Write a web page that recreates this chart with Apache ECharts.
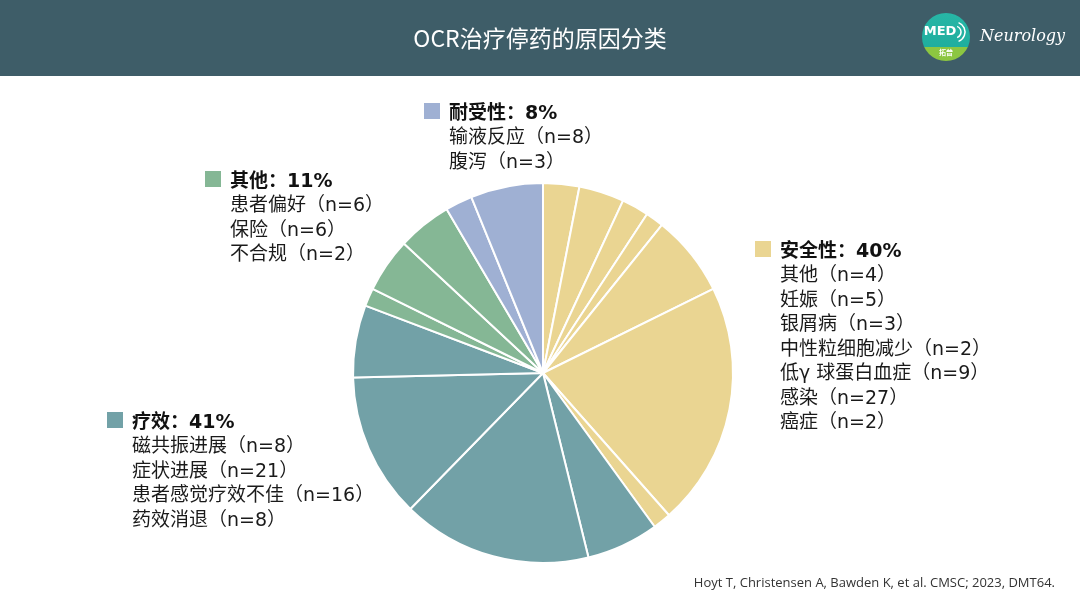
<!DOCTYPE html>
<html>
<head>
<meta charset="utf-8">
<script src="https://cdn.jsdelivr.net/npm/echarts@6/dist/echarts.min.js"></script>
<style>
  html, body { margin: 0; padding: 0; background: #fff; }
  #main { width: 1080px; height: 608px; }
</style>
</head>
<body>
<div id="main"></div>
<script>
// 数据：各类别及其细分原因
var titleText = 'OCR治疗停药的原因分类';
var sourceText = 'Hoyt T, Christensen A, Bawden K, et al. CMSC; 2023, DMT64.';

var groupNames = ['安全性', '疗效', '其他', '耐受性'];
var groupPct = ['40%', '41%', '11%', '8%'];

var safetyItems = ['其他', '妊娠', '银屑病', '中性粒细胞减少', '低γ 球蛋白血症', '感染', '癌症'];
var safetyN = [4, 5, 3, 2, 9, 27, 2];
var efficacyItems = ['磁共振进展', '症状进展', '患者感觉疗效不佳', '药效消退'];
var efficacyN = [8, 21, 16, 8];
var otherItems = ['患者偏好', '保险', '不合规'];
var otherN = [6, 6, 2];
var toleranceItems = ['输液反应', '腹泻'];
var toleranceN = [8, 3];

var colors = ['#ead592', '#72a1a7', '#85b795', '#9fb0d3'];
var font = '"Noto Sans CJK SC", "Noto Sans", sans-serif';
var labelFont = '"DejaVu Sans", "Noto Sans CJK SC", sans-serif'; // 西文字宽一些

// 饼图里的顺序（顺时针，从12点开始）
var pieData = [];
function addSlices(items, ns, color, reverse) {
    var idx = items.map(function (x, i) { return i; });
    if (reverse) idx.reverse();
    idx.forEach(function (i) {
        pieData.push({ name: items[i], value: ns[i], itemStyle: { color: color } });
    });
}
addSlices(safetyItems, safetyN, colors[0], false);
addSlices(efficacyItems, efficacyN, colors[1], false);
addSlices(otherItems, otherN, colors[2], true);
addSlices(toleranceItems, toleranceN, colors[3], true);

// 每个说明块：方块 + 粗体标题 + 各条
var lineH = 24.5;
function labelBlock(x, y, color, head, pct, items, ns) {
    var els = [];
    els.push({ type: 'rect', shape: { x: x, y: y - 8, width: 16, height: 16 }, style: { fill: color } });
    els.push({ type: 'text', x: x + 25, y: y + 3, style: {
        text: head + '：' + pct, font: 'bold 19px ' + labelFont, fill: '#111', textVerticalAlign: 'middle' } });
    items.forEach(function (it, i) {
        els.push({ type: 'text', x: x + 25, y: y + 3 + lineH * (i + 1), style: {
            text: it + '（n=' + ns[i] + '）', font: '19px ' + labelFont, fill: '#1a1a1a', textVerticalAlign: 'middle' } });
    });
    return els;
}

var graphics = [];
// 顶部标题栏
graphics.push({ type: 'rect', shape: { x: 0, y: 0, width: 1080, height: 76 }, style: { fill: '#3e5d68' } });
graphics.push({ type: 'text', x: 540, y: 38, style: {
    text: titleText, font: '23px ' + font, fill: '#fff', textAlign: 'center', textVerticalAlign: 'middle' } });
// logo
graphics.push({ type: 'circle', shape: { cx: 946, cy: 37, r: 24 }, style: {
    fill: new echarts.graphic.LinearGradient(0, 0, 0, 1, [
        { offset: 0, color: '#27b6a6' }, { offset: 0.7, color: '#1fae9e' },
        { offset: 0.7, color: '#8cc641' }, { offset: 1, color: '#8cc641' }]) } });
graphics.push({ type: 'text', x: 940, y: 32, style: {
    text: 'MED', font: 'bold 13px "DejaVu Sans", sans-serif', fill: '#fff', textAlign: 'center', textVerticalAlign: 'middle' } });
graphics.push({ type: 'arc', shape: { cx: 955, cy: 32, r: 6, startAngle: -Math.PI / 2.6, endAngle: Math.PI / 2.6 }, style: { stroke: '#fff', lineWidth: 1.5, fill: 'none' } });
graphics.push({ type: 'arc', shape: { cx: 955, cy: 32, r: 10, startAngle: -Math.PI / 2.6, endAngle: Math.PI / 2.6 }, style: { stroke: '#fff', lineWidth: 1.5, fill: 'none' } });
graphics.push({ type: 'text', x: 946, y: 52, style: {
    text: '拓普', font: 'bold 7px ' + font, fill: '#fff', textAlign: 'center', textVerticalAlign: 'middle' } });
graphics.push({ type: 'text', x: 980, y: 37, style: {
    text: 'Neurology', font: 'italic 16px "DejaVu Serif", serif', fill: '#fff', textVerticalAlign: 'middle' } });

graphics = graphics.concat(labelBlock(755, 249, colors[0], groupNames[0], groupPct[0], safetyItems, safetyN));
graphics = graphics.concat(labelBlock(107, 420, colors[1], groupNames[1], groupPct[1], efficacyItems, efficacyN));
graphics = graphics.concat(labelBlock(205, 179, colors[2], groupNames[2], groupPct[2], otherItems, otherN));
graphics = graphics.concat(labelBlock(424, 111, colors[3], groupNames[3], groupPct[3], toleranceItems, toleranceN));

// 来源
graphics.push({ type: 'text', x: 1055, y: 583, style: {
    text: sourceText, font: '13px "Open Sans", "Noto Sans", sans-serif', fill: '#333', textAlign: 'right', textVerticalAlign: 'middle' } });

var myChart = echarts.init(document.getElementById('main'));
var option = {
    backgroundColor: '#fff',
    animation: false,
    graphic: graphics,
    series: [
        {
            type: 'pie',
            center: [543, 373],
            radius: 190,
            startAngle: 90,
            clockwise: true,
            silent: true,
            label: { show: false },
            labelLine: { show: false },
            itemStyle: { borderColor: '#fff', borderWidth: 2 },
            data: pieData
        }
    ]
};
myChart.setOption(option);
</script>
</body>
</html>
